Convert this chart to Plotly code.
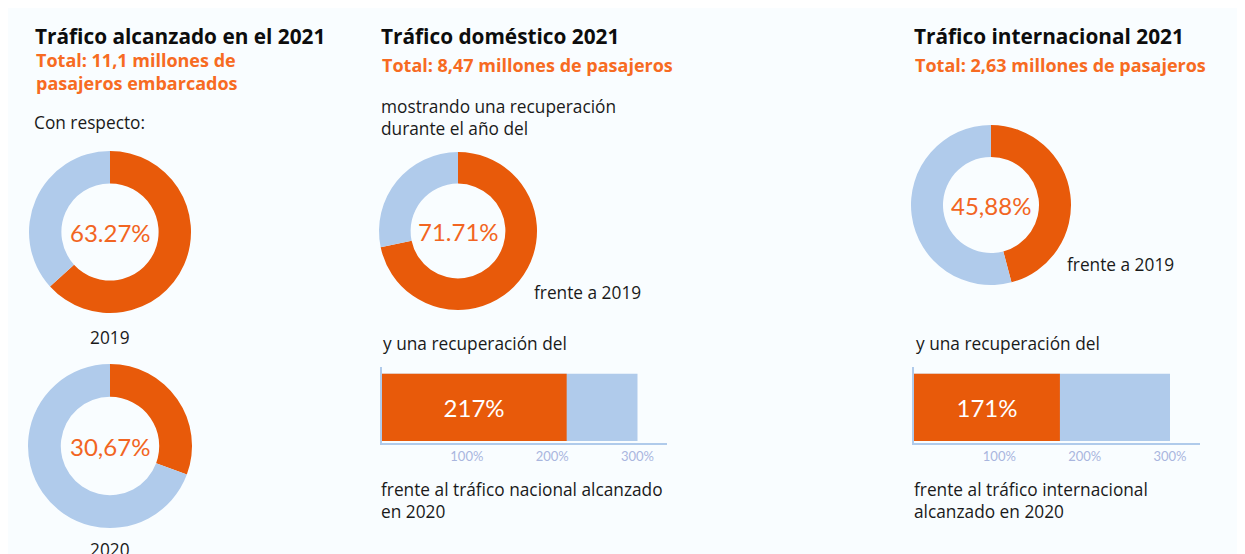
import plotly.graph_objects as go

OFF = 8
W, H = 1245 - OFF, 554 - OFF

# ---- data ----
donut_names = ["Total vs 2019", "Total vs 2020", "Doméstico vs 2019", "Internacional vs 2019"]
donut_values = [63.27, 30.67, 71.71, 45.88]
donut_labels = ["63.27%", "30,67%", "71.71%", "45,88%"]
bar_names = ["Doméstico vs 2020", "Internacional vs 2020"]
bar_values = [217, 171]
bar_labels = ["217%", "171%"]
bar_scale_max = 300
bar_ticks = [100, 200, 300]
bar_ticktext = ["100%", "200%", "300%"]

ORANGE = "#E85A0A"
BLUE = "#B0CBEB"
TXT_ORANGE = "#F76B22"
PCT_ORANGE = "#F26522"
TICK = "#A9B6DE"
FONT = "Open Sans"
NUMFONT = "Lato"
BG = "#F9FDFF"

fig = go.Figure()

def px_x(x):
    return (x - OFF) / W

def px_y(y):
    return 1 - (y - OFF) / H

# donut geometry (center x, center y, radius) in page pixels
donut_geo = [(110, 232, 81), (110, 446, 82), (458, 231, 79), (991, 205, 80)]

for name, val, lab, (cx, cy, r) in zip(donut_names, donut_values, donut_labels, donut_geo):
    fig.add_trace(go.Pie(
        values=[val, 100 - val],
        labels=[name, name + " resto"],
        marker=dict(colors=[ORANGE, BLUE], line=dict(width=0)),
        hole=0.6,
        sort=False,
        direction="clockwise",
        rotation=0,
        textinfo="none",
        hoverinfo="skip",
        showlegend=False,
        domain=dict(x=[px_x(cx - r), px_x(cx + r)], y=[px_y(cy + r), px_y(cy - r)]),
    ))
    fig.add_annotation(x=px_x(cx), y=px_y(cy), xref="paper", yref="paper",
                       text=lab, showarrow=False, xanchor="center", yanchor="middle",
                       font=dict(family=NUMFONT, size=24, color=PCT_ORANGE))

# bar charts (page pixels: x0 = 0%, x1 = axis end, y0 top, y1 bottom)
bar_geo = [(381.5, 667, 367, 443), (914, 1200, 367, 443)]
for i, (name, val, lab, (x0, x1, y0, y1)) in enumerate(zip(bar_names, bar_values, bar_labels, bar_geo)):
    xa = "x" if i == 0 else "x2"
    ya = "y" if i == 0 else "y2"
    fig.add_trace(go.Bar(x=[bar_scale_max], y=[0], orientation="h", width=1,
                         marker=dict(color=BLUE, line=dict(width=0)),
                         xaxis=xa, yaxis=ya, hoverinfo="skip", showlegend=False))
    fig.add_trace(go.Bar(x=[val], y=[0], orientation="h", width=1, name=name,
                         marker=dict(color=ORANGE, line=dict(width=0)),
                         text=[lab], textposition="inside", insidetextanchor="middle",
                         textfont=dict(family=NUMFONT, size=24, color="white"),
                         xaxis=xa, yaxis=ya, hoverinfo="skip", showlegend=False))
    span = (x1 - x0) / 85.33 * 100
    xaxis_cfg = dict(domain=[px_x(x0), px_x(x1)], range=[0, span],
                     tickvals=bar_ticks, ticktext=bar_ticktext,
                     tickfont=dict(family=NUMFONT, size=13, color=TICK),
                     showgrid=False, zeroline=False, showline=True,
                     linecolor=BLUE, linewidth=2, ticks="", anchor=ya, fixedrange=True)
    yaxis_cfg = dict(domain=[px_y(y1), px_y(y0)], range=[-0.53, 0.6],
                     showticklabels=False, showgrid=False, zeroline=False,
                     showline=True, linecolor=BLUE, linewidth=2, anchor=xa, fixedrange=True)
    if i == 0:
        fig.update_layout(xaxis=xaxis_cfg, yaxis=yaxis_cfg)
    else:
        fig.update_layout(xaxis2=xaxis_cfg, yaxis2=yaxis_cfg)

def note(text, x, y, size=17.3, color="#1A1A1A", bold=False, anchor="left"):
    if bold:
        text = "<b>" + text.replace("<br>", "</b><br><b>") + "</b>"
    fig.add_annotation(x=px_x(x), y=px_y(y), xref="paper", yref="paper", text=text,
                       showarrow=False, xanchor=anchor, yanchor="middle", align=anchor,
                       font=dict(family=FONT, size=size, color=color))

TITLE = dict(size=20.8, color="#0D0D0D", bold=True)
SUB = dict(size=18, color=TXT_ORANGE, bold=True)

# left column
note("Tráfico alcanzado en el 2021", 33, 36, **TITLE)
note("Total: 11,1 millones de<br>pasajeros embarcados", 34, 71, **SUB)
note("Con respecto:", 32, 122)
note("2019", 110, 337, anchor="center")
note("2020", 110, 549, anchor="center")

# middle column
note("Tráfico doméstico 2021", 379, 36, **TITLE)
note("Total: 8,47 millones de pasajeros", 380, 65, **SUB)
note("mostrando una recuperación<br>durante el año del", 379, 118)
note("frente a 2019", 532, 292)
note("y una recuperación del", 381, 343)
note("frente al tráfico nacional alcanzado<br>en 2020", 379, 500)

# right column
note("Tráfico internacional 2021", 912, 36, **TITLE)
note("Total: 2,63 millones de pasajeros", 913, 65, **SUB)
note("frente a 2019", 1065, 264)
note("y una recuperación del", 914, 343)
note("frente al tráfico internacional<br>alcanzado en 2020", 912, 500)

fig.update_layout(width=W, height=H, margin=dict(l=0, r=0, t=0, b=0),
                  paper_bgcolor=BG, plot_bgcolor=BG, barmode="overlay",
                  font=dict(family=FONT), showlegend=False)

fig.write_html("out.html", config={"displayModeBar": False})
